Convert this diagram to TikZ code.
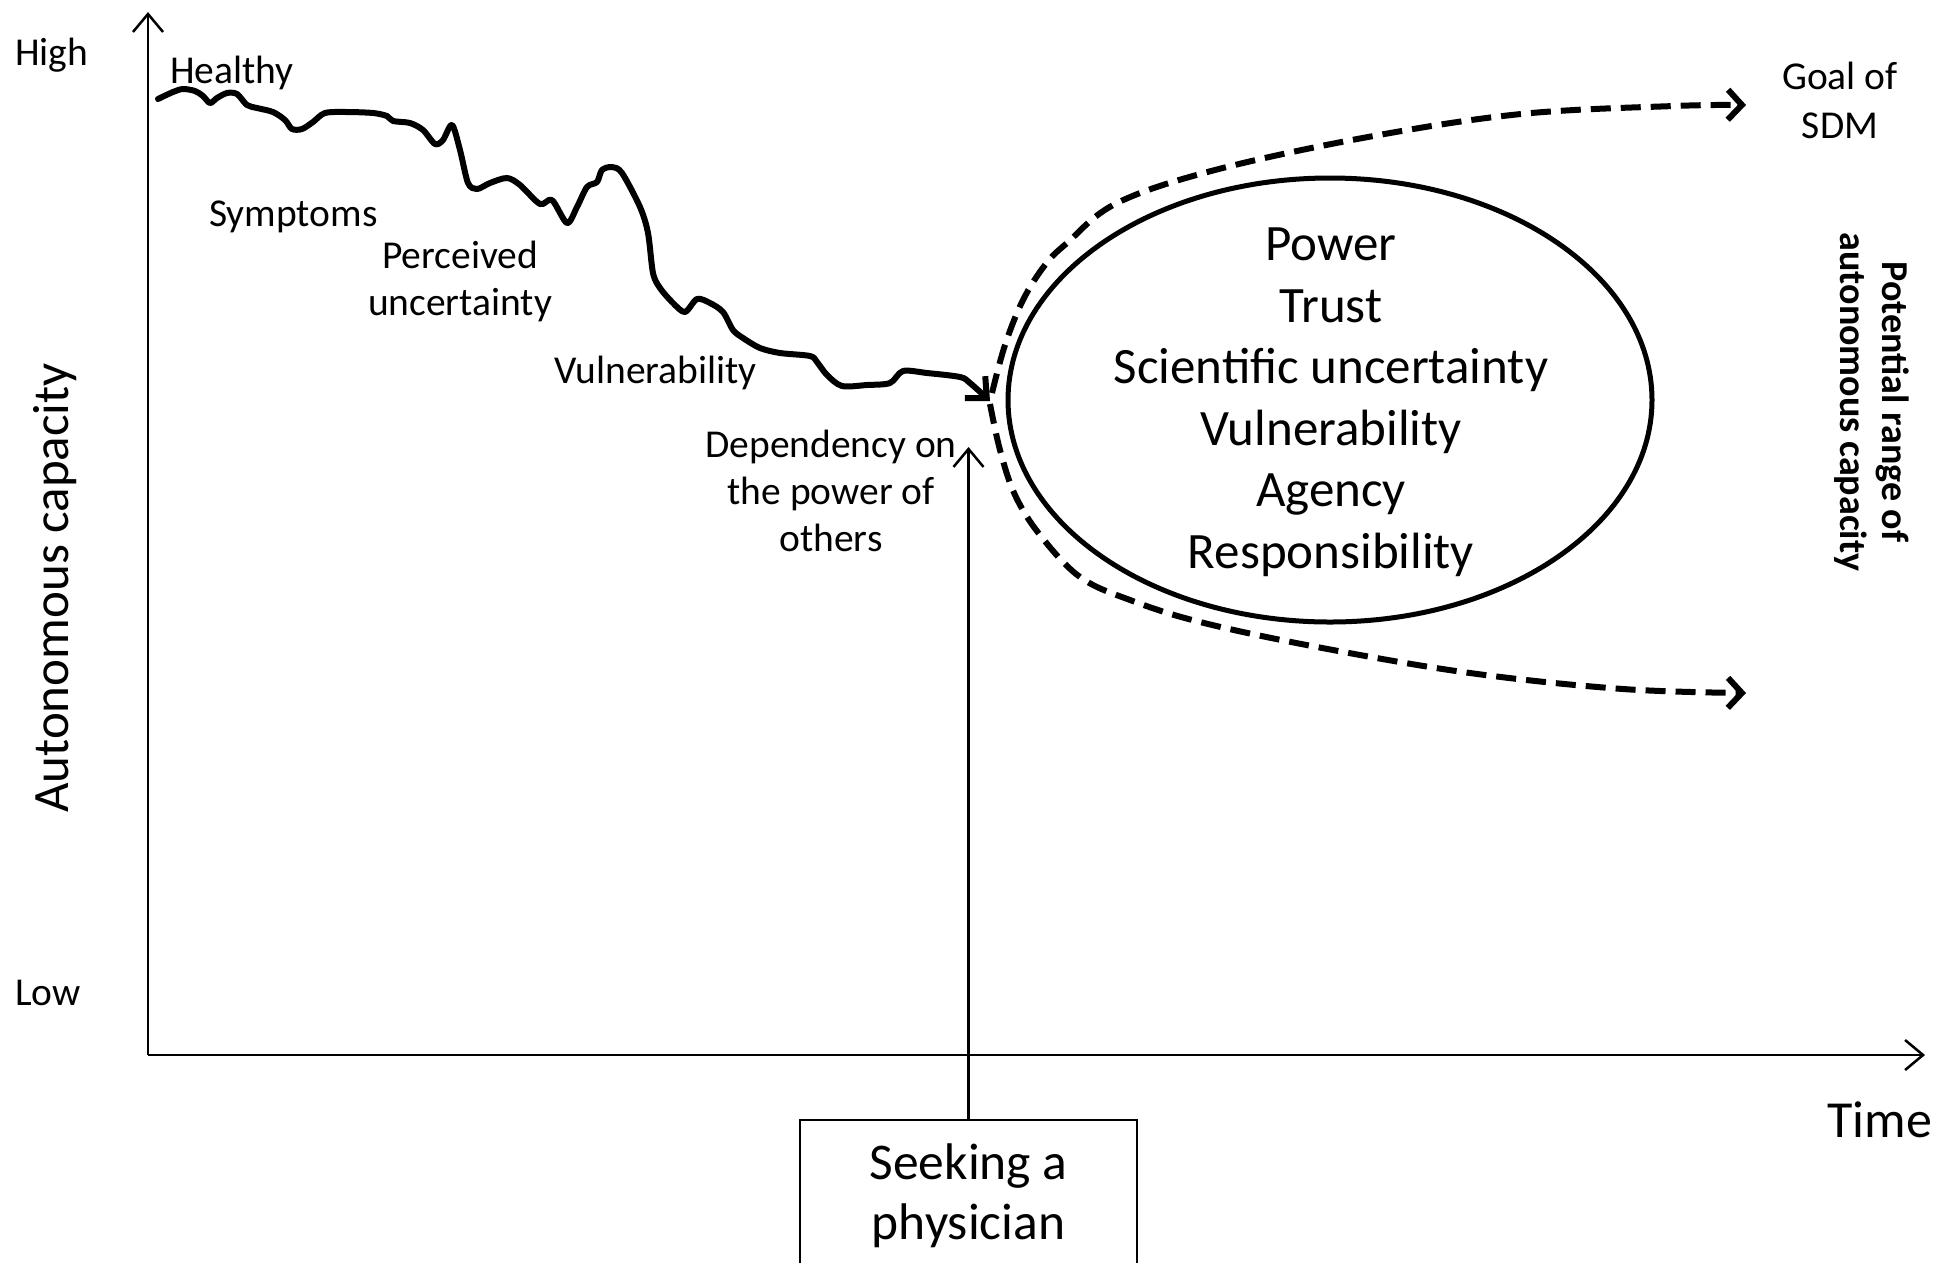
\documentclass[tikz,border=0pt]{standalone}
\usepackage{fontspec}
\setmainfont{Carlito}
\usetikzlibrary{arrows.meta,shapes.geometric}
\begin{document}
\begin{tikzpicture}[x=1pt,y=-1pt,
  lab/.style={font=\fontsize{39.5}{47}\selectfont, inner sep=0pt, align=center},
  axisline/.style={line width=2.5pt},
  thinarrow/.style={-{Straight Barb[length=18pt,width=30pt]}},
  dashedarrow/.style={line width=6pt, dash pattern=on 20pt off 10pt, -{Straight Barb[length=14pt,width=30pt]}},
  curvearrow/.style={line width=6pt, line join=round, line cap=round, -{Straight Barb[length=16pt,width=30pt]}}
]
\useasboundingbox (0,0) rectangle (1934,1262);
\fill[white] (0,0) rectangle (1934,1262);

% axes
\coordinate (O) at (148,1055);
\coordinate (ytop) at (148,12);
\coordinate (xend) at (1925,1055);
\draw[axisline,thinarrow] (O) -- (ytop);
\draw[axisline,thinarrow] (O) -- (xend);

\node[lab, anchor=base west] (high) at (15,65) {High};
\node[lab, anchor=base west] (low) at (15,1005) {Low};
\node[font=\fontsize{51}{62}\selectfont, rotate=90, inner sep=0pt] (ylab) at (55,588) {Autonomous capacity};
\node[font=\fontsize{52}{62}\selectfont, anchor=base west, inner sep=0pt] (time) at (1827,1137) {Time};

% decline curve
\draw[curvearrow] plot[smooth, tension=0.5] coordinates {
(158,99) (173,92) (183,89) (195,91) (203,96) (210,103) (217,98) (227,93) (237,94) (247,105)
(257,108) (273,112) (285,120) (292,129) (302,129) (313,122) (325,113) (347,112) (373,113)
(387,116) (393,121) (410,123) (423,130) (435,144) (443,140) (452,125) (460,150) (468,183)
(477,189) (490,183) (507,178) (520,185) (540,204) (552,200) (567,223) (577,207) (587,187)
(597,182) (602,170) (612,167) (622,173) (640,207) (648,233) (653,273) (660,288) (673,303)
(685,312) (697,299) (710,303) (723,312) (733,330) (743,338) (760,348) (780,353) (810,356)
(817,362) (827,375) (842,386) (867,385) (890,383) (903,371) (927,373) (960,377) (970,383) (990,401)};

\node[lab, anchor=base west] (healthy) at (170,83) {Healthy};
\node[lab, anchor=base west] (symp) at (209,226) {Symptoms};
\node[lab] (perc) at (460,281) {Perceived\\uncertainty};
\node[lab, anchor=base west] (vul) at (554,383) {Vulnerability};
\node[lab] (depend) at (831,491) {Dependency on\\the power of\\others};

% ellipse of factors
\node[draw, ellipse, line width=5pt, minimum width=644pt, minimum height=444pt, inner sep=0pt] (ell) at (1330,400) {};
\node[font=\fontsize{51}{61.5}\selectfont, align=center, inner sep=0pt] (factors) at (1331,402)
  {Power\\Trust\\Scientific uncertainty\\Vulnerability\\Agency\\Responsibility};

% potential range
\draw[dashedarrow] plot[smooth, tension=0.6] coordinates {(992,393) (1005,345) (1023,300) (1045,265) (1067,243) (1117,203) (1215,170) (1368,137) (1521,114) (1674,106) (1746,105)};
\draw[dashedarrow] plot[smooth, tension=0.6] coordinates {(990,404) (1000,450) (1015,495) (1040,535) (1080,577) (1130,600) (1200,622) (1317,647) (1470,673) (1623,689) (1746,693)};

\node[font=\fontsize{39.5}{49}\selectfont, align=center, inner sep=0pt] (goal) at (1840,100) {Goal of\\SDM};
\node[font=\bfseries\fontsize{38}{42}\selectfont, rotate=-90, align=center, inner sep=0pt] (range) at (1872,402) {Potential range of\\autonomous capacity};

% seeking a physician
\node[draw, line width=2.5pt, minimum width=337pt, minimum height=152pt, inner sep=0pt, align=center, font=\fontsize{51.5}{60}\selectfont] (seek) at (968.5,1196) {Seeking a\\physician};
\coordinate (dep) at (968.5,447);
\draw[axisline,thinarrow] (seek.north) -- (dep);
\end{tikzpicture}
\end{document}
